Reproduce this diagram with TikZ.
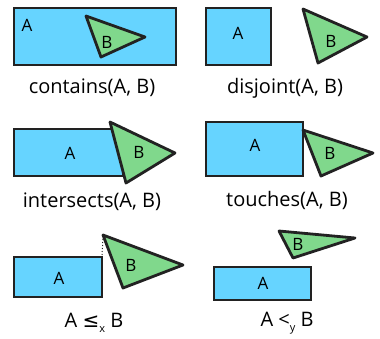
\documentclass[tikz,border=0pt]{standalone}
\usepackage{fontspec}
\setmainfont{Open Sans}
\newfontfamily\symfont{DejaVu Sans}
\definecolor{shapeA}{RGB}{102,212,255}
\definecolor{shapeB}{RGB}{128,216,140}
\definecolor{edge}{RGB}{34,34,34}
\tikzset{
  boxA/.style={draw=edge, fill=shapeA, line width=2.8pt},
  triB/.style={draw=edge, fill=shapeB, line width=2.8pt, line join=round},
  letter/.style={font=\fontsize{17}{17}\selectfont},
  caption/.style={font=\fontsize{20}{20}\selectfont}
}
\begin{document}
\begin{tikzpicture}[x=1pt,y=-1pt]
\useasboundingbox (0,0) rectangle (380,338);

% contains
\draw[boxA] (14,8) rectangle (176,65);
\draw[triB] (86,16) -- (145,37) -- (101,57) -- cycle;
\node[letter] (a1) at (27,25) {A};
\node[letter] (b1) at (107,42) {B};
\node[caption] (c1) at (92,88) {contains(A, B)};

% disjoint
\draw[boxA] (206,8) rectangle (271,65);
\draw[triB] (303,9) -- (367,37) -- (318,63) -- cycle;
\node[letter] (a2) at (238,33) {A};
\node[letter] (b2) at (331,41) {B};
\node[caption] (c2) at (285,88) {disjoint(A, B)};

% intersects
\draw[boxA] (14,129) rectangle (123,176);
\draw[triB] (110,122) -- (175,153) -- (126,183) -- cycle;
\node[letter] (a3) at (70,153) {A};
\node[letter] (b3) at (139,152) {B};
\node[caption] (c3) at (92,202) {intersects(A, B)};

% touches
\draw[boxA] (206,122) rectangle (303,176);
\draw[triB] (303,130) -- (373,153) -- (321,176) -- cycle;
\node[letter] (a4) at (255,145) {A};
\node[letter] (b4) at (330,153) {B};
\node[caption] (c4) at (287,200) {touches(A, B)};

% A <=x B
\draw[boxA] (14,257) rectangle (102,297);
\draw[triB] (103,235) -- (183,265) -- (123,288) -- cycle;
\coordinate (top5) at (103,236);
\coordinate (corner5) at (102,256);
\draw[edge, line width=1pt, dotted] (top5) -- (corner5);
\node[letter] (a5) at (59,278) {A};
\node[letter] (b5) at (131,265) {B};
\node[caption] (c5) at (94,323) {A {\symfont ≤}\raisebox{-0.5ex}{\fontsize{11}{11}\selectfont x} B};

% A <y B
\draw[boxA] (214,267) rectangle (311,300);
\draw[triB] (279,231) -- (355,238) -- (293,258) -- cycle;
\node[letter] (a6) at (263,283) {A};
\node[letter] (b6) at (298,244) {B};
\node[caption] (c6) at (287,323) {A <\raisebox{-0.5ex}{\fontsize{11}{11}\selectfont y} B};
\end{tikzpicture}
\end{document}
